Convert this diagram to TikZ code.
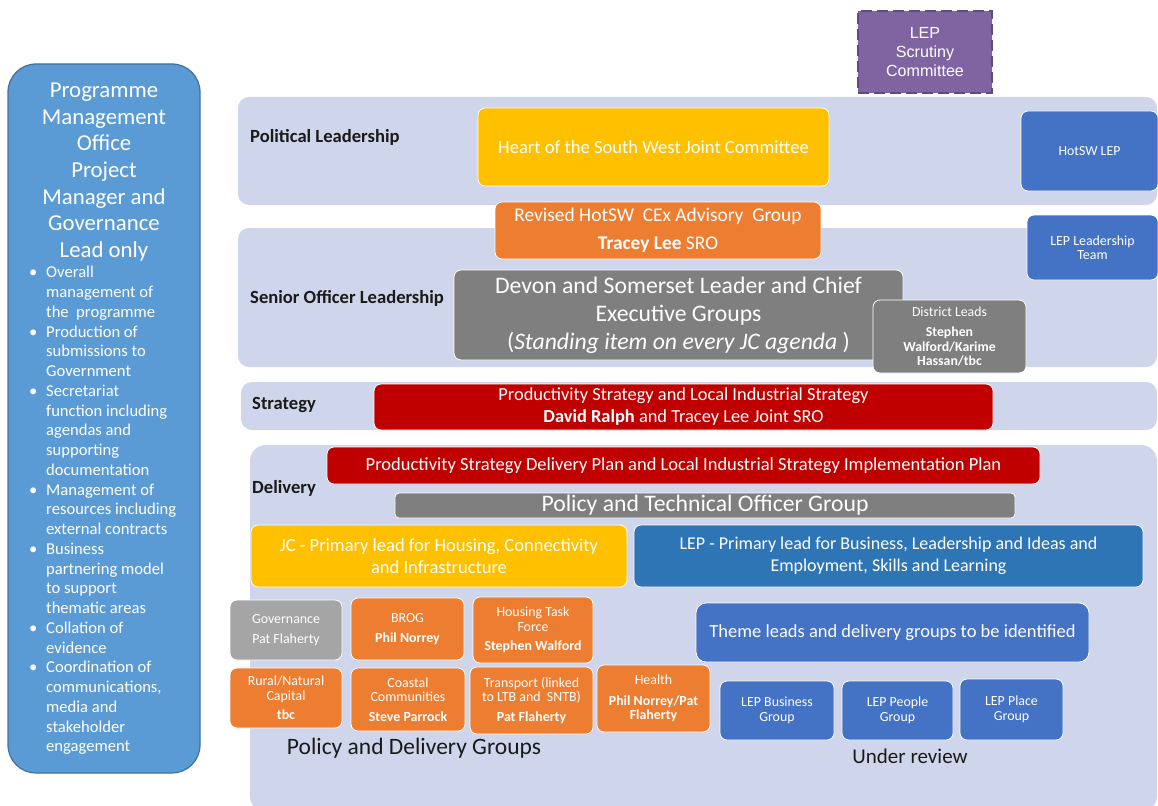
\documentclass[tikz,border=0pt]{standalone}
\usepackage{fontspec}
\setmainfont{Carlito}
\newfontfamily\arialfont{Liberation Sans}
\usetikzlibrary{positioning}
\newcommand\fsz[2]{\fontsize{#1}{#2}\selectfont}
\definecolor{bandbg}{HTML}{CFD5EA}
\definecolor{pmofill}{HTML}{5B9BD5}
\definecolor{pmoline}{HTML}{41719C}
\definecolor{amber}{HTML}{FFC000}
\definecolor{orng}{HTML}{ED7D31}
\definecolor{lblue}{HTML}{4472C4}
\definecolor{mblue}{HTML}{2E75B6}
\definecolor{dred}{HTML}{C00000}
\definecolor{dgrey}{HTML}{7F7F7F}
\definecolor{lgrey}{HTML}{A5A5A5}
\definecolor{purp}{HTML}{8064A2}
\definecolor{purpline}{HTML}{5F4B80}
\definecolor{ink}{HTML}{1A1A1A}
\tikzstyle{band} = [rectangle, rounded corners=11pt, fill=bandbg, inner sep=0pt]
\tikzstyle{lvl} = [anchor=west, inner sep=0pt, text=ink, font=\fsz{18.6}{21}\bfseries]
\tikzstyle{box} = [rectangle, rounded corners=7pt, draw=white, line width=0.8pt, text=white, align=center, inner sep=0pt]
\tikzstyle{grp} = [box, font=\fsz{13.9}{14.5}]

\begin{document}
\begin{tikzpicture}[x=1pt, y=-1pt]
\useasboundingbox (0,0) rectangle (1158,805);
\clip (0,0) rectangle (1158,805);

% programme office panel
\node(PMO)[rectangle, rounded corners=28pt, fill=pmofill, draw=pmoline, line width=1.2pt,
  minimum width=192, minimum height=709] at (104,418.5) {};
\node(PMOT)[text=white, align=center, font=\fsz{22.8}{26.7}] at (104,172)
  {Programme\\Management\\Office\\Project\\Manager and\\Governance\\Lead only};
\node(PMOL)[anchor=west, inner sep=0pt, text=white, font=\fsz{16.6}{19.75}] at (29,511)
  {\begin{tabular}{@{}p{17pt}@{}l@{}}
  \textbullet & Overall\\ & management of\\ & the~ programme\\
  \textbullet & Production of\\ & submissions to\\ & Government\\
  \textbullet & Secretariat\\ & function including\\ & agendas and\\ & supporting\\ & documentation\\
  \textbullet & Management of\\ & resources including\\ & external contracts\\
  \textbullet & Business\\ & partnering model\\ & to support\\ & thematic areas\\
  \textbullet & Collation of\\ & evidence\\
  \textbullet & Coordination of\\ & communications,\\ & media and\\ & stakeholder\\ & engagement
  \end{tabular}};

% the four levels
\node(PL)[band, minimum width=919, minimum height=108] at (697.5,151) {};
\node(SO)[band, minimum width=919, minimum height=139] at (697.5,297.5) {};
\node(ST)[band, minimum width=916, minimum height=48] at (699,406) {};
\node(DE)[band, rounded corners=16pt, minimum width=907, minimum height=367] at (703.5,628.5) {};
\node(PLt)[lvl] at (250,137) {Political Leadership};
\node(SOt)[lvl] at (250,298) {Senior Officer Leadership};
\node(STt)[lvl] at (252,405) {Strategy};
\node(DEt)[lvl] at (252,488) {Delivery};

\node(LSC)[rectangle, fill=purp, draw=purpline, line width=2.2pt, dash pattern=on 11pt off 5pt,
  text=white, align=center, font=\arialfont\fsz{16.1}{18.7},
  minimum width=134, minimum height=82] at (925,52) {LEP\\Scrutiny\\Committee};

% political
\node(HJC)[box, fill=amber, font=\fsz{18.6}{22}, minimum width=351, minimum height=78] at (653.5,147)
  {Heart of the South West Joint Committee};
\node(HL)[box, fill=lblue, font=\fsz{13.8}{16}, minimum width=137, minimum height=80] at (1089.5,151)
  {HotSW LEP};

% senior officers
\node(RH)[box, fill=orng, font=\fsz{19.4}{22}, minimum width=326, minimum height=57] at (658,230.5)
  {Revised HotSW~ CEx Advisory~ Group\\[6pt]\textbf{Tracey Lee} SRO};
\node(LLT)[box, fill=lblue, font=\fsz{13.9}{14.5}, minimum width=131, minimum height=65] at (1092.5,247.5)
  {LEP Leadership\\Team};
\node(DS)[box, fill=dgrey, font=\fsz{23.7}{28}, minimum width=449, minimum height=90] at (678.5,315)
  {Devon and Somerset Leader and Chief\\Executive Groups\\(\textit{Standing item on every JC agenda} )};
\node(DL)[box, fill=dgrey, font=\fsz{13.8}{14.5}, minimum width=153, minimum height=73] at (949.5,336.5)
  {District Leads\\[6pt]\textbf{Stephen}\\\textbf{Walford/Karime}\\\textbf{Hassan/tbc}};

% strategy
\node(PS)[box, fill=dred, font=\fsz{18.4}{22}, minimum width=619, minimum height=46] at (683.5,407)
  {Productivity Strategy and Local Industrial Strategy\\\textbf{David Ralph} and Tracey Lee Joint SRO};

% delivery
\node(PD)[box, fill=dred, font=\fsz{18.5}{20}, minimum width=713, minimum height=37] at (683.5,465.5)
  {Productivity Strategy Delivery Plan and Local Industrial Strategy Implementation Plan};
\node(PT)[box, fill=dgrey, rounded corners=4pt, font=\fsz{23.7}{24}, minimum width=620, minimum height=25] at (705,505.5)
  {Policy and Technical Officer Group};
\node(JC)[box, fill=amber, font=\fsz{18.5}{22}, minimum width=376, minimum height=62] at (439,556)
  {JC - Primary lead for Housing, Connectivity\\and Infrastructure};
\node(LP)[box, fill=mblue, font=\fsz{18}{22}, minimum width=509, minimum height=62] at (888.5,556)
  {LEP - Primary lead for Business, Leadership and Ideas and\\Employment, Skills and Learning};

\node(GOV)[grp, fill=lgrey, minimum width=112, minimum height=60] at (286,630)
  {Governance\\[5pt]Pat Flaherty};
\node(BR)[grp, fill=orng, minimum width=113, minimum height=62] at (407.5,629)
  {BROG\\[5pt]\textbf{Phil Norrey}};
\node(HT)[grp, fill=orng, minimum width=120, minimum height=66] at (533,630)
  {Housing Task\\Force\\[5pt]\textbf{Stephen Walford}};
\node(TL)[box, fill=lblue, rounded corners=10pt, font=\fsz{18.5}{20}, minimum width=393, minimum height=59] at (892.5,632.5)
  {Theme leads and delivery groups to be identified};
\node(RN)[grp, fill=orng, minimum width=112, minimum height=60] at (286,698)
  {Rural/Natural\\Capital\\[5pt]\textbf{tbc}};
\node(CC)[grp, fill=orng, minimum width=114, minimum height=63] at (408,699.5)
  {Coastal\\Communities\\[5pt]\textbf{Steve Parrock}};
\node(TR)[grp, fill=orng, minimum width=123, minimum height=67] at (531.5,700.5)
  {Transport (linked\\to LTB and~ SNTB)\\[5pt]\textbf{Pat Flaherty}};
\node(HE)[grp, fill=orng, minimum width=113, minimum height=67] at (653.5,698.5)
  {Health\\[6pt]\textbf{Phil Norrey/Pat}\\\textbf{Flaherty}};
\node(LB)[grp, fill=lblue, minimum width=114, minimum height=59] at (777,710.5)
  {LEP Business\\Group};
\node(LPe)[grp, fill=lblue, minimum width=111, minimum height=59] at (897.5,710.5)
  {LEP People\\Group};
\node(LPl)[grp, fill=lblue, minimum width=103, minimum height=61] at (1011.5,709.5)
  {LEP Place\\Group};

\node(PDG)[text=ink, font=\fsz{23.5}{24}] at (414,748) {Policy and Delivery Groups};
\node(UR)[text=ink, font=\fsz{21}{22}] at (910,756) {Under review};
\end{tikzpicture}
\end{document}
